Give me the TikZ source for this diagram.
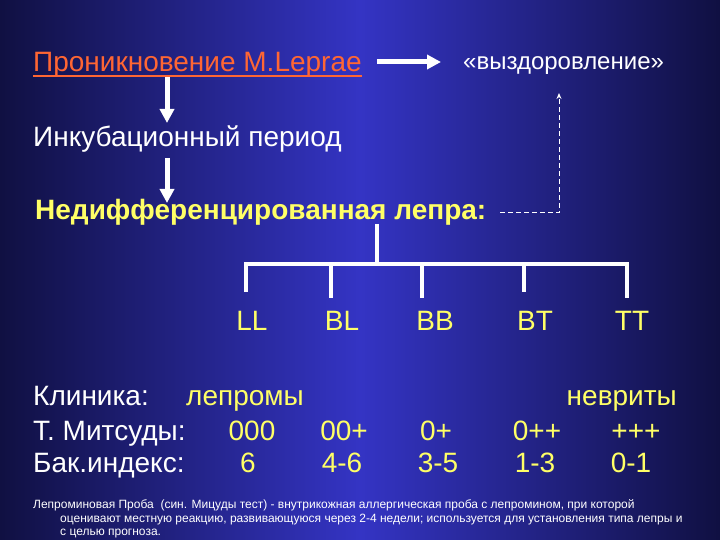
\documentclass[tikz,border=0pt]{standalone}
\usepackage{fontspec}
\setmainfont{Liberation Sans}
\usetikzlibrary{arrows.meta}
\definecolor{bgedge}{RGB}{16,16,66}
\definecolor{bgmid}{RGB}{52,52,196}
\definecolor{leporange}{RGB}{255,102,51}
\definecolor{lepyellow}{RGB}{255,255,102}

\begin{document}
\begin{tikzpicture}[x=1pt, y=-1pt,
    txt/.style={inner sep=0pt, text=white, font=\fontsize{28}{32}\selectfont},
    ylw/.style={txt, text=lepyellow},
    small/.style={inner sep=0pt, text=white, font=\fontsize{12}{14}\selectfont},
    bigarrow/.style={white, line width=5pt, -{Triangle[width=14pt,length=14pt]}},
    branch/.style={white, line width=4pt, line join=miter},
    back/.style={white, line width=1pt, dash pattern=on 5pt off 3pt, -{Stealth[length=6pt,width=5pt]}}]

  % background
  \useasboundingbox (0,0) rectangle (720,540);
  \fill[left color=bgedge, right color=bgedge, middle color=bgmid] (0,0) rectangle (720,540);

  % top part
  \node[txt, text=leporange, anchor=base west] (entry) at (33,72) {Проникновение M.Leprae};
  \draw[leporange, line width=2pt] ([yshift=-4pt]entry.base west) -- ([yshift=-4pt]entry.base east);
  \node[txt, font=\fontsize{24}{28}\selectfont, anchor=base west] (recov) at (463,70) {«выздоровление»};
  \node[txt, anchor=base west] (incub) at (33,147) {Инкубационный период};
  \node[ylw, font=\bfseries\fontsize{28}{32}\selectfont, anchor=base west] (undiff) at (35,220) {Недифференцированная лепра:};

  \coordinate (h1) at (377,62);
  \coordinate (h2) at (441,62);
  \coordinate (v1) at (167,77);
  \coordinate (v2) at (167,123);
  \coordinate (v3) at (167,158);
  \coordinate (v4) at (167,203);
  \draw[bigarrow] (h1) -- (h2);
  \draw[bigarrow] (v1) -- (v2);
  \draw[bigarrow] (v3) -- (v4);

  \coordinate (bk1) at (500,213);
  \coordinate (bk2) at (559,93);
  \draw[back] (bk1) -| (bk2);

  % tree
  \coordinate (root) at (377,224);
  \coordinate (hub) at (377,264);
  \draw[branch] (root) -- (hub);
  \draw[branch] (246,292) -- (246,264) -- (627,264) -- (627,298);
  \foreach \x/\y in {331/298, 422/298, 524/292}
    \draw[branch] (\x,264) -- (\x,\y);

  \foreach \x/\t in {252/LL, 342/BL, 435/BB, 535/BT, 632/TT}
    \node[ylw, anchor=base] (\t) at (\x,330) {\t};

  % rows
  \node[txt, anchor=base west] (clin) at (33,405) {Клиника:};
  \node[ylw, anchor=base west] (lepr) at (186,405) {лепромы};
  \node[ylw, anchor=base east] (neur) at (677,405) {невриты};
  \node[txt, anchor=base west] (mits) at (33,440) {Т. Митсуды:};
  \node[txt, anchor=base west] (bak) at (33,472) {Бак.индекс:};
  \foreach \x/\v [count=\i] in {252/000, 344/00+, 436/0+, 537/0++, 636/+++}
    \node[ylw, anchor=base] (mv\i) at (\x,440) {\v};
  \foreach \x/\v [count=\i] in {248/6, 342/4-6, 438/3-5, 535/1-3, 631/0-1}
    \node[ylw, anchor=base] (bv\i) at (\x,472) {\v};

  % footnote
  \node[small, anchor=base west] (note1) at (33,508) {Лепроминовая Проба\ \ (син. Мицуды тест) - внутрикожная аллергическая проба с лепромином, при которой};
  \node[small, anchor=base west] (note2) at (60,522) {оценивают местную реакцию, развивающуюся через 2-4 недели; используется для установления типа лепры и};
  \node[small, anchor=base west] (note3) at (60,535) {с целью прогноза.};
\end{tikzpicture}
\end{document}
